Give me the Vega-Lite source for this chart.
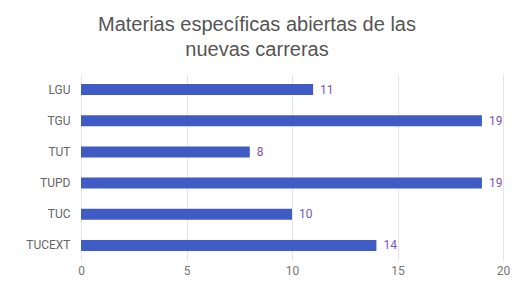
{
  "$schema": "https://vega.github.io/schema/vega-lite/v6.json",
  "autosize": "none",
  "width": 422,
  "height": 187,
  "padding": {"left": 81, "top": 74, "right": 10, "bottom": 28},
  "background": "white",
  "title": {
    "text": ["Materias específicas abiertas de las", "nuevas carreras"],
    "font": "Liberation Sans",
    "fontSize": 20,
    "fontWeight": "normal",
    "color": "#555555",
    "anchor": "middle",
    "dx": -35,
    "offset": 14,
    "lineHeight": 25
  },
  "data": {
    "values": [
      {"carrera": "LGU", "materias": 11},
      {"carrera": "TGU", "materias": 19},
      {"carrera": "TUT", "materias": 8},
      {"carrera": "TUPD", "materias": 19},
      {"carrera": "TUC", "materias": 10},
      {"carrera": "TUCEXT", "materias": 14}
    ]
  },
  "encoding": {
    "y": {
      "field": "carrera",
      "type": "nominal",
      "sort": null,
      "axis": {
        "title": null,
        "domain": false,
        "ticks": false,
        "labelFont": "Roboto",
        "labelFontSize": 12,
        "labelColor": "#666666",
        "labelPadding": 11
      }
    },
    "x": {
      "field": "materias",
      "type": "quantitative",
      "scale": {"domain": [0, 20]},
      "axis": {
        "title": null,
        "domain": false,
        "ticks": false,
        "values": [0, 5, 10, 15, 20],
        "labelFont": "Roboto",
        "labelFontSize": 12,
        "labelColor": "#777777",
        "labelPadding": 4,
        "gridColor": "#e6e6e6",
        "labelFlush": false
      }
    }
  },
  "layer": [
    {"mark": {"type": "bar", "color": "#3f5bc4", "size": 11}},
    {
      "mark": {"type": "text", "align": "left", "dx": 7, "font": "Roboto", "fontSize": 12, "color": "#7a55b8"},
      "encoding": {"text": {"field": "materias", "type": "quantitative"}}
    }
  ],
  "config": {"view": {"stroke": null}}
}
